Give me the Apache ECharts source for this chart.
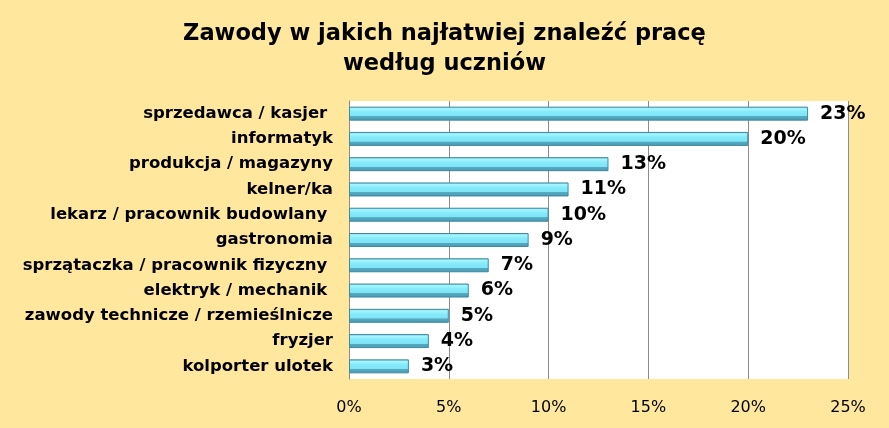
<!DOCTYPE html>
<html>
<head>
<meta charset="utf-8">
<script src="https://cdn.jsdelivr.net/npm/echarts@6/dist/echarts.min.js"></script>
<style>
  html, body { margin: 0; padding: 0; background: #ffe79e; }
  #chart { width: 889px; height: 428px; }
</style>
</head>
<body>
<div id="chart"></div>
<script>
// dane z wykresu
const categories = [
  'sprzedawca / kasjer ',
  'informatyk',
  'produkcja / magazyny',
  'kelner/ka',
  'lekarz / pracownik budowlany ',
  'gastronomia',
  'sprzątaczka / pracownik fizyczny ',
  'elektryk / mechanik ',
  'zawody technicze / rzemieślnicze',
  'fryzjer',
  'kolporter ulotek'
];
const values = [23, 20, 13, 11, 10, 9, 7, 6, 5, 4, 3];
const tickValues = [0, 5, 10, 15, 20, 25];

const chart = echarts.init(document.getElementById('chart'));

const font = '"DejaVu Sans", Verdana, sans-serif';

const option = {
  backgroundColor: '#ffe79e',
  animation: false,
  title: {
    text: 'Zawody w jakich najłatwiej znaleźć pracę\nwedług uczniów',
    left: 'center',
    top: 14,
    textStyle: {
      fontFamily: font,
      fontSize: 22.5,
      fontWeight: 'bold',
      color: '#000',
      lineHeight: 30
    }
  },
  grid: {
    left: 349,
    right: 41,
    top: 101,
    bottom: 49,
    show: true,
    backgroundColor: '#ffffff',
    borderWidth: 0
  },
  xAxis: {
    type: 'value',
    min: tickValues[0],
    max: tickValues[tickValues.length - 1],
    interval: 5,
    axisLine: { show: false },
    axisTick: { show: false },
    axisLabel: {
      formatter: '{value}%',
      fontFamily: font,
      fontSize: 16,
      color: '#000',
      margin: 21
    },
    splitLine: {
      show: true,
      lineStyle: { color: '#8c8c8c', width: 1 }
    }
  },
  yAxis: {
    type: 'category',
    inverse: true,
    data: categories,
    axisLine: { show: true, lineStyle: { color: '#8c8c8c' } },
    axisTick: { show: false },
    axisLabel: {
      fontFamily: font,
      fontSize: 16.5,
      fontWeight: 'bold',
      color: '#000',
      margin: 16
    }
  },
  series: [
    {
      type: 'bar',
      data: values,
      barWidth: 14,
      itemStyle: {
        color: {
          type: 'linear', x: 0, y: 0, x2: 0, y2: 1,
          colorStops: [
            { offset: 0, color: '#68c6dc' },
            { offset: 0.15, color: '#a9f5ff' },
            { offset: 0.35, color: '#86ecfc' },
            { offset: 0.68, color: '#7ee4f6' },
            { offset: 0.7, color: '#55abc3' },
            { offset: 1, color: '#4a98b0' }
          ]
        },
        borderColor: '#3f8aa0',
        borderWidth: 1
      },
      label: {
        show: true,
        position: 'right',
        distance: 12,
        formatter: '{c}%',
        fontFamily: font,
        fontSize: 19,
        fontWeight: 'bold',
        color: '#000'
      }
    }
  ]
};

chart.setOption(option);
</script>
</body>
</html>
